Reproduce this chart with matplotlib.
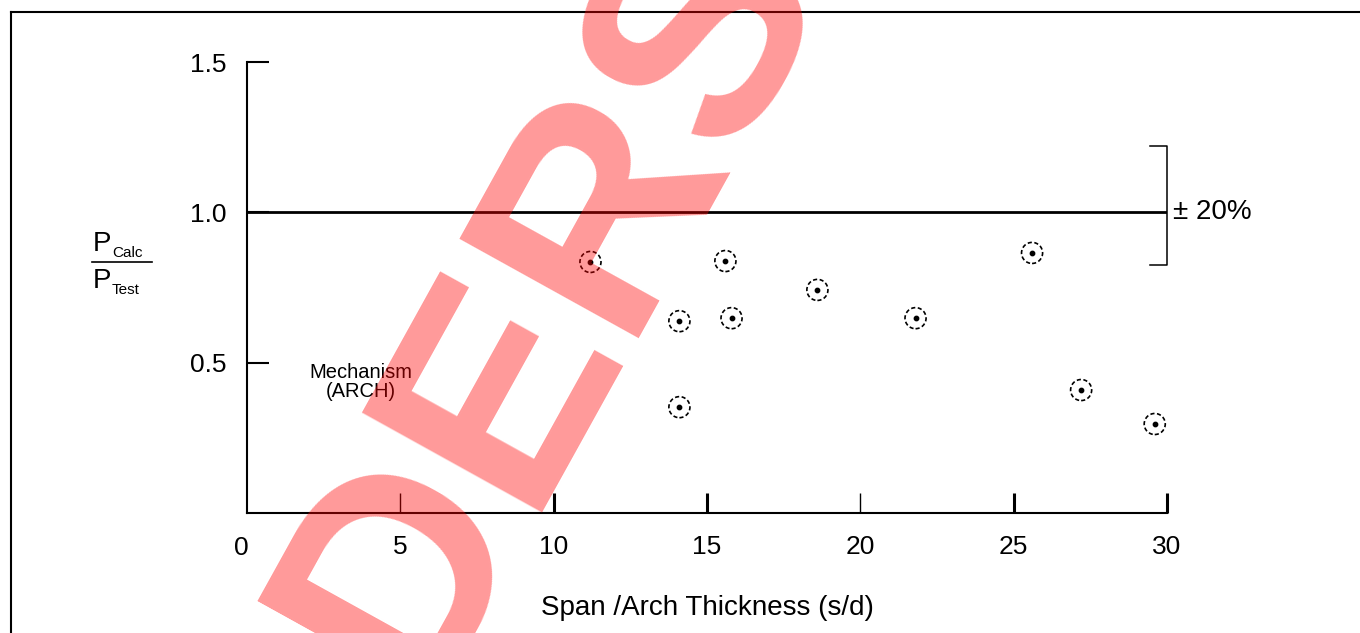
import matplotlib
matplotlib.use('Agg')
import matplotlib.pyplot as plt
from matplotlib.lines import Line2D

plt.rcParams['font.family'] = ['Liberation Sans', 'DejaVu Sans']

# ---------- Data ----------
span_ratio = [11.2, 15.6, 14.1, 15.8, 18.6, 21.8, 25.6, 14.1, 27.2, 29.6]
p_ratio = [0.835, 0.838, 0.638, 0.648, 0.742, 0.648, 0.865, 0.352, 0.409, 0.296]

x_ticks = [5, 10, 15, 20, 25, 30]
x_tick_labels = ['5', '10', '15', '20', '25', '30']
x_tick_widths = [1.0, 2.2, 2.2, 1.0, 2.2, 2.2]
y_ticks = [0.5, 1.0, 1.5]
y_tick_labels = ['0.5', '1.0', '1.5']

band_x = [29.45, 30, 30, 29.45]
band_y = [1.222, 1.222, 0.825, 0.825]

# ---------- Plot ----------
fig = plt.figure(figsize=(13.6, 6.33), dpi=100)
ax = fig.add_axes([247 / 1360, 1 - 513 / 633, 920 / 1360, 451 / 633])
ax.set_xlim(0, 30)
ax.set_ylim(0, 1.5)

for side in ['top', 'right']:
    ax.spines[side].set_visible(False)
for side in ['left', 'bottom']:
    ax.spines[side].set_linewidth(1.5)

ax.set_xticks(x_ticks)
ax.set_xticklabels(x_tick_labels)
ax.set_yticks(y_ticks)
ax.set_yticklabels(y_tick_labels)
ax.tick_params(axis='x', direction='in', length=14.5, pad=16, labelsize=19)
ax.tick_params(axis='y', direction='in', length=16, width=1.5, pad=15, labelsize=19)
for tick, w in zip(ax.xaxis.get_major_ticks(), x_tick_widths):
    tick.tick1line.set_markeredgewidth(w)

# "0" at the origin
ax.text(-0.2, -0.075, '0', ha='center', va='top', fontsize=19)

# reference line and +/-20% bracket
ax.axhline(1.0, color='black', linewidth=2)
ax.plot(band_x, band_y, color='black', linewidth=1.1, clip_on=False)
ax.text(30.2, 1.0, '\u00b1 20%', ha='left', va='center', fontsize=20)

# test points
ax.scatter(span_ratio, p_ratio, s=230, facecolors='none', edgecolors='black',
           linewidths=1.2, linestyles=(0, (2.5, 1.5)), zorder=3)
ax.scatter(span_ratio, p_ratio, s=10, color='black', zorder=3)

ax.text(3.7, 0.436, 'Mechanism\n(ARCH)', ha='center', va='center', fontsize=14.5,
        linespacing=1.0)

ax.set_xlabel('Span /Arch Thickness (s/d)', fontsize=20, labelpad=26)

# y label as a fraction
fig.text(93 / 1360, 1 - 251 / 633, 'P', fontsize=20, ha='left', va='baseline')
fig.text(112 / 1360, 1 - 257 / 633, 'Calc', fontsize=11, ha='left', va='baseline')
fig.add_artist(Line2D([92 / 1360, 152 / 1360], [1 - 262 / 633] * 2, color='black', linewidth=1.2))
fig.text(93 / 1360, 1 - 288 / 633, 'P', fontsize=20, ha='left', va='baseline')
fig.text(112 / 1360, 1 - 294 / 633, 'Test', fontsize=11, ha='left', va='baseline')

# page frame
fig.add_artist(Line2D([10.5 / 1360, 10.5 / 1360], [0, 1 - 12 / 633], color='black', linewidth=1.5))
fig.add_artist(Line2D([10.5 / 1360, 1], [1 - 12 / 633] * 2, color='black', linewidth=1.5))

# watermark
fig.text(552 / 1360, 1 - 300 / 633, 'DERS', fontsize=215, fontweight='bold', color='red',
         alpha=0.4, rotation=61, ha='center', va='center', rotation_mode='anchor', zorder=10)

fig.savefig('out.png', dpi=100)
